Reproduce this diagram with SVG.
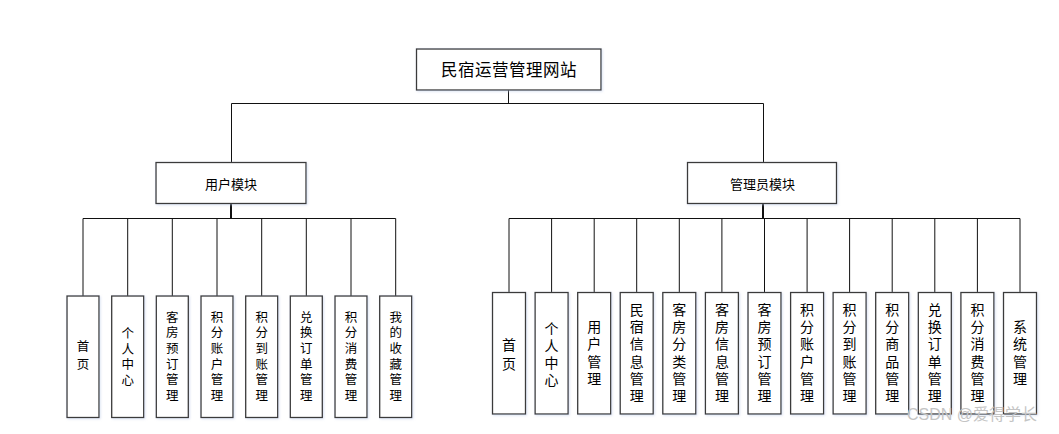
<svg xmlns="http://www.w3.org/2000/svg" width="1059" height="434" viewBox="0 0 1059 434">
<defs>
<filter id="sh" x="-20%" y="-20%" width="140%" height="140%">
<feDropShadow dx="1" dy="1" stdDeviation="1" flood-color="#b8c6e6" flood-opacity="0.5"/>
</filter>
<style>
.box{fill:#ffffff;stroke:#3a3a3a;stroke-width:1.3;filter:url(#sh)}
.ln{stroke:#111;stroke-width:1;fill:none}
.thick{stroke:#111;stroke-width:2;fill:none}
text{font-family:"Noto Sans CJK SC","Liberation Sans",sans-serif;fill:#000;text-anchor:middle;dominant-baseline:central}
.t1{font-size:16.5px;letter-spacing:0.5px}
.t2{font-size:13px}
.tl{font-family:"Liberation Sans","Noto Sans CJK SC",sans-serif;font-size:12.5px}
.tr{font-family:"Liberation Sans","Noto Sans CJK SC",sans-serif;font-size:14px}
.wm{font-family:"Liberation Sans","Noto Sans CJK SC",sans-serif;font-size:16px;fill:#c4c4c4;text-anchor:start;dominant-baseline:auto}
</style>
</defs>
<rect width="1059" height="434" fill="#ffffff"/>

<g id="connectors">
<path class="ln" d="M508.5 90 V103.5 M231.5 103.5 H763.5 M231.5 103.5 V162.5 M763.5 103.5 V162.5"/>
<path class="thick" d="M231 203.5 V218.5 M763 203.5 V218.5"/>
<path class="ln" d="M83 218.5 H395.7 M83 218.5 V296 M127.7 218.5 V296 M172.3 218.5 V296 M217 218.5 V296 M261.7 218.5 V296 M306.3 218.5 V296 M351 218.5 V296 M395.7 218.5 V296"/>
<path class="ln" d="M509 218.5 H1020 M509 218.5 V292.5 M551.6 218.5 V292.5 M594.2 218.5 V292.5 M636.7 218.5 V292.5 M679.3 218.5 V292.5 M721.9 218.5 V292.5 M764.5 218.5 V292.5 M807.1 218.5 V292.5 M849.6 218.5 V292.5 M892.2 218.5 V292.5 M934.8 218.5 V292.5 M977.4 218.5 V292.5 M1020 218.5 V292.5"/>
</g>

<g id="root">
<rect class="box" x="416.5" y="49" width="184.5" height="41"/>
<text class="t1" x="509" y="69">民宿运营管理网站</text>
</g>

<g id="user-module">
<rect class="box" x="156" y="162.5" width="150" height="41"/>
<text class="t2" x="231" y="183">用户模块</text>
</g>

<g id="admin-module">
<rect class="box" x="687.5" y="162.5" width="149" height="41"/>
<text class="t2" x="762.5" y="183">管理员模块</text>
</g>

<g id="u1">
<rect class="box" x="67" y="296" width="32" height="121.5"/>
<text class="tl"><tspan x="83" y="347">首</tspan><tspan x="83" y="364.5">页</tspan></text>
</g>
<g id="u2">
<rect class="box" x="111.7" y="296" width="32" height="121.5"/>
<text class="tl"><tspan x="127.7" y="334">个</tspan><tspan x="127.7" y="349.6">人</tspan><tspan x="127.7" y="365.2">中</tspan><tspan x="127.7" y="380.8">心</tspan></text>
</g>
<g id="u3">
<rect class="box" x="156.3" y="296" width="32" height="121.5"/>
<text class="tl"><tspan x="172.3" y="317.5">客</tspan><tspan x="172.3" y="333.2">房</tspan><tspan x="172.3" y="348.9">预</tspan><tspan x="172.3" y="364.6">订</tspan><tspan x="172.3" y="380.3">管</tspan><tspan x="172.3" y="396">理</tspan></text>
</g>
<g id="u4">
<rect class="box" x="201" y="296" width="32" height="121.5"/>
<text class="tl"><tspan x="217" y="317.5">积</tspan><tspan x="217" y="333.2">分</tspan><tspan x="217" y="348.9">账</tspan><tspan x="217" y="364.6">户</tspan><tspan x="217" y="380.3">管</tspan><tspan x="217" y="396">理</tspan></text>
</g>
<g id="u5">
<rect class="box" x="245.7" y="296" width="32" height="121.5"/>
<text class="tl"><tspan x="261.7" y="317.5">积</tspan><tspan x="261.7" y="333.2">分</tspan><tspan x="261.7" y="348.9">到</tspan><tspan x="261.7" y="364.6">账</tspan><tspan x="261.7" y="380.3">管</tspan><tspan x="261.7" y="396">理</tspan></text>
</g>
<g id="u6">
<rect class="box" x="290.3" y="296" width="32" height="121.5"/>
<text class="tl"><tspan x="306.3" y="317.5">兑</tspan><tspan x="306.3" y="333.2">换</tspan><tspan x="306.3" y="348.9">订</tspan><tspan x="306.3" y="364.6">单</tspan><tspan x="306.3" y="380.3">管</tspan><tspan x="306.3" y="396">理</tspan></text>
</g>
<g id="u7">
<rect class="box" x="335" y="296" width="32" height="121.5"/>
<text class="tl"><tspan x="351" y="317.5">积</tspan><tspan x="351" y="333.2">分</tspan><tspan x="351" y="348.9">消</tspan><tspan x="351" y="364.6">费</tspan><tspan x="351" y="380.3">管</tspan><tspan x="351" y="396">理</tspan></text>
</g>
<g id="u8">
<rect class="box" x="379.7" y="296" width="32" height="121.5"/>
<text class="tl"><tspan x="395.7" y="317.5">我</tspan><tspan x="395.7" y="333.2">的</tspan><tspan x="395.7" y="348.9">收</tspan><tspan x="395.7" y="364.6">藏</tspan><tspan x="395.7" y="380.3">管</tspan><tspan x="395.7" y="396">理</tspan></text>
</g>

<g id="a1">
<rect class="box" x="492.5" y="292.5" width="33" height="121.5"/>
<text class="tr"><tspan x="509" y="345">首</tspan><tspan x="509" y="364">页</tspan></text>
</g>
<g id="a2">
<rect class="box" x="535.1" y="292.5" width="33" height="121.5"/>
<text class="tr"><tspan x="551.6" y="328.5">个</tspan><tspan x="551.6" y="345.7">人</tspan><tspan x="551.6" y="362.9">中</tspan><tspan x="551.6" y="380.1">心</tspan></text>
</g>
<g id="a3">
<rect class="box" x="577.7" y="292.5" width="33" height="121.5"/>
<text class="tr"><tspan x="594.2" y="327.2">用</tspan><tspan x="594.2" y="344.4">户</tspan><tspan x="594.2" y="361.6">管</tspan><tspan x="594.2" y="378.8">理</tspan></text>
</g>
<g id="a4">
<rect class="box" x="620.2" y="292.5" width="33" height="121.5"/>
<text class="tr"><tspan x="636.7" y="310">民</tspan><tspan x="636.7" y="327.2">宿</tspan><tspan x="636.7" y="344.4">信</tspan><tspan x="636.7" y="361.6">息</tspan><tspan x="636.7" y="378.8">管</tspan><tspan x="636.7" y="396">理</tspan></text>
</g>
<g id="a5">
<rect class="box" x="662.8" y="292.5" width="33" height="121.5"/>
<text class="tr"><tspan x="679.3" y="310">客</tspan><tspan x="679.3" y="327.2">房</tspan><tspan x="679.3" y="344.4">分</tspan><tspan x="679.3" y="361.6">类</tspan><tspan x="679.3" y="378.8">管</tspan><tspan x="679.3" y="396">理</tspan></text>
</g>
<g id="a6">
<rect class="box" x="705.4" y="292.5" width="33" height="121.5"/>
<text class="tr"><tspan x="721.9" y="310">客</tspan><tspan x="721.9" y="327.2">房</tspan><tspan x="721.9" y="344.4">信</tspan><tspan x="721.9" y="361.6">息</tspan><tspan x="721.9" y="378.8">管</tspan><tspan x="721.9" y="396">理</tspan></text>
</g>
<g id="a7">
<rect class="box" x="748" y="292.5" width="33" height="121.5"/>
<text class="tr"><tspan x="764.5" y="310">客</tspan><tspan x="764.5" y="327.2">房</tspan><tspan x="764.5" y="344.4">预</tspan><tspan x="764.5" y="361.6">订</tspan><tspan x="764.5" y="378.8">管</tspan><tspan x="764.5" y="396">理</tspan></text>
</g>
<g id="a8">
<rect class="box" x="790.6" y="292.5" width="33" height="121.5"/>
<text class="tr"><tspan x="807.1" y="310">积</tspan><tspan x="807.1" y="327.2">分</tspan><tspan x="807.1" y="344.4">账</tspan><tspan x="807.1" y="361.6">户</tspan><tspan x="807.1" y="378.8">管</tspan><tspan x="807.1" y="396">理</tspan></text>
</g>
<g id="a9">
<rect class="box" x="833.1" y="292.5" width="33" height="121.5"/>
<text class="tr"><tspan x="849.6" y="310">积</tspan><tspan x="849.6" y="327.2">分</tspan><tspan x="849.6" y="344.4">到</tspan><tspan x="849.6" y="361.6">账</tspan><tspan x="849.6" y="378.8">管</tspan><tspan x="849.6" y="396">理</tspan></text>
</g>
<g id="a10">
<rect class="box" x="875.7" y="292.5" width="33" height="121.5"/>
<text class="tr"><tspan x="892.2" y="310">积</tspan><tspan x="892.2" y="327.2">分</tspan><tspan x="892.2" y="344.4">商</tspan><tspan x="892.2" y="361.6">品</tspan><tspan x="892.2" y="378.8">管</tspan><tspan x="892.2" y="396">理</tspan></text>
</g>
<g id="a11">
<rect class="box" x="918.3" y="292.5" width="33" height="121.5"/>
<text class="tr"><tspan x="934.8" y="310">兑</tspan><tspan x="934.8" y="327.2">换</tspan><tspan x="934.8" y="344.4">订</tspan><tspan x="934.8" y="361.6">单</tspan><tspan x="934.8" y="378.8">管</tspan><tspan x="934.8" y="396">理</tspan></text>
</g>
<g id="a12">
<rect class="box" x="960.9" y="292.5" width="33" height="121.5"/>
<text class="tr"><tspan x="977.4" y="310">积</tspan><tspan x="977.4" y="327.2">分</tspan><tspan x="977.4" y="344.4">消</tspan><tspan x="977.4" y="361.6">费</tspan><tspan x="977.4" y="378.8">管</tspan><tspan x="977.4" y="396">理</tspan></text>
</g>
<g id="a13">
<rect class="box" x="1003.5" y="292.5" width="33" height="121.5"/>
<text class="tr"><tspan x="1020" y="327.2">系</tspan><tspan x="1020" y="344.4">统</tspan><tspan x="1020" y="361.6">管</tspan><tspan x="1020" y="378.8">理</tspan></text>
</g>

<text class="wm" x="907" y="420">CSDN @爱得学长</text>
</svg>
